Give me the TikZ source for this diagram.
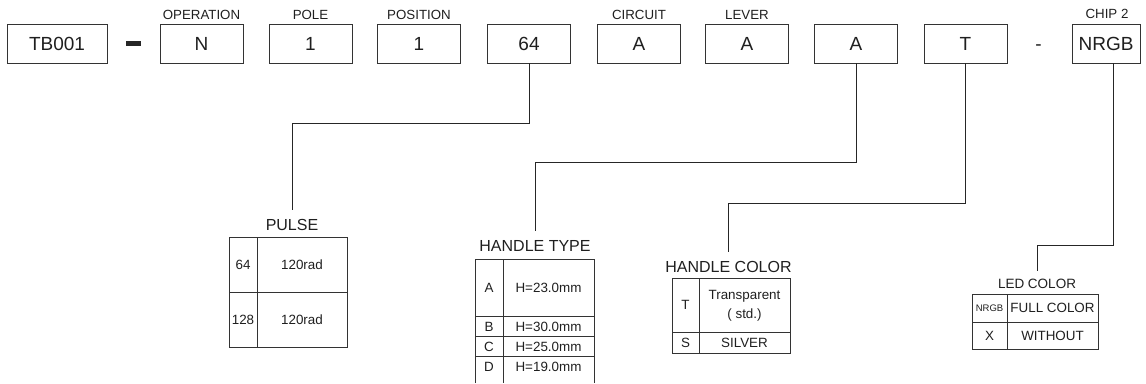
\documentclass[tikz,border=0pt]{standalone}
\usepackage{fontspec}
\setmainfont{Liberation Sans}
\begin{document}
\begin{tikzpicture}[x=1pt,y=-1pt,
  every node/.style={text=black!88},
  box/.style={draw=black!80, line width=0.9pt, minimum width=83pt, minimum height=39pt, inner sep=0pt, text height=13.6pt, text depth=0pt, font=\fontsize{19}{19}\selectfont},
  caplbl/.style={anchor=base, inner sep=0pt, font=\fontsize{13.3}{13}\selectfont},
  ttl/.style={anchor=base, inner sep=0pt, outer sep=8.5pt, font=\fontsize{16}{16}\selectfont},
  cell/.style={inner sep=0pt, text height=9.6pt, text depth=0pt, font=\fontsize{13.4}{13}\selectfont},
  grid/.style={draw=black!80, line width=0.9pt},
  conn/.style={draw=black!85, line width=1pt}]
\useasboundingbox (0,0) rectangle (1146,383);

% top row of boxes
\node[box, minimum width=100pt] (tb) at (57,43.5) {TB001};
\node[fill=black!85, minimum width=15pt, minimum height=4.6pt, inner sep=0pt] (dash1) at (133.5,43.2) {};
\node[box] (bop) at (201.5,43.5) {N};
\node[box] (bpole) at (310.5,43.5) {1};
\node[box] (bpos) at (419,43.5) {1};
\node[box] (b64) at (529,43.5) {64};
\node[box] (bcir) at (639,43.5) {A};
\node[box] (blev) at (747,43.5) {A};
\node[box] (bht) at (856,43.5) {A};
\node[box] (bhc) at (965.5,43.5) {T};
\node[anchor=base, inner sep=0pt, font=\fontsize{19}{19}\selectfont] (dash2) at (1038.5,50.3) {-};
\node[box, minimum width=68pt] (nrgb) at (1106,43.5) {NRGB};

% captions
\node[caplbl] (lop) at (201.5,19.3) {OPERATION};
\node[caplbl] (lpole) at (310.5,19.3) {POLE};
\node[caplbl] (lpos) at (419,19.3) {POSITION};
\node[caplbl] (lcir) at (639,19.3) {CIRCUIT};
\node[caplbl] (llev) at (747,19.3) {LEVER};
\node[caplbl] (lchip) at (1107,18.3) {CHIP 2};

% table titles
\node[ttl] (pulse) at (292,230) {PULSE};
\node[ttl] (ht) at (535,251) {HANDLE TYPE};
\node[ttl] (hc) at (728.5,272) {HANDLE COLOR};
\node[ttl, outer sep=8pt, font=\fontsize{13.5}{13}\selectfont] (led) at (1037,288.3) {LED COLOR};

% connectors
\coordinate (k1) at (292,123);
\coordinate (k2) at (535,162);
\coordinate (k3) at (728.5,203);
\coordinate (k4) at (1037,245);
\draw[conn] (b64.south) |- (k1) -- (pulse.north);
\draw[conn] (bht.south) |- (k2) -- (ht.north);
\draw[conn] (bhc.south) |- (k3) -- (hc.north);
\draw[conn] ([xshift=7pt]nrgb.south) |- (k4) -- (led.north);

% PULSE table
\draw[grid] (229,237) rectangle (347,347);
\draw[grid] (257,237) -- (257,347);
\draw[grid] (229,292) -- (347,292);
\node[cell] (p1a) at (243,264.5) {64};
\node[cell] (p1b) at (302,264.5) {120rad};
\node[cell] (p2a) at (243,319.5) {128};
\node[cell] (p2b) at (302,319.5) {120rad};

% HANDLE TYPE table
\draw[grid] (475,383) -- (475,259) -- (594,259) -- (594,383);
\draw[grid] (503,259) -- (503,383);
\draw[grid] (475,316) -- (594,316);
\draw[grid] (475,336.5) -- (594,336.5);
\draw[grid] (475,356.5) -- (594,356.5);
\node[cell] (h1a) at (489,287.5) {A};
\node[cell] (h1b) at (548.5,287.5) {H=23.0mm};
\node[cell] (h2a) at (489,326.5) {B};
\node[cell] (h2b) at (548.5,326.5) {H=30.0mm};
\node[cell] (h3a) at (489,346.5) {C};
\node[cell] (h3b) at (548.5,346.5) {H=25.0mm};
\node[cell] (h4a) at (489,366.5) {D};
\node[cell] (h4b) at (548.5,366.5) {H=19.0mm};

% HANDLE COLOR table
\draw[grid] (672,278) rectangle (790,353);
\draw[grid] (699,278) -- (699,353);
\draw[grid] (672,332) -- (790,332);
\node[cell] (c1a) at (685.5,305) {T};
\node[cell] (c1b) at (744.5,295) {Transparent};
\node[cell] (c1c) at (744.5,314) {( std.)};
\node[cell] (c2a) at (685.5,342.5) {S};
\node[cell] (c2b) at (744.5,342.5) {SILVER};

% LED COLOR table
\draw[grid] (972,294) rectangle (1098,349);
\draw[grid] (1007,294) -- (1007,349);
\draw[grid] (972,322) -- (1098,322);
\node[cell, text height=6.8pt, font=\fontsize{9.5}{9}\selectfont] (l1a) at (989.5,308) {NRGB};
\node[cell] (l1b) at (1052.5,308) {FULL COLOR};
\node[cell] (l2a) at (989.5,335.5) {X};
\node[cell] (l2b) at (1052.5,335.5) {WITHOUT};
\end{tikzpicture}
\end{document}
